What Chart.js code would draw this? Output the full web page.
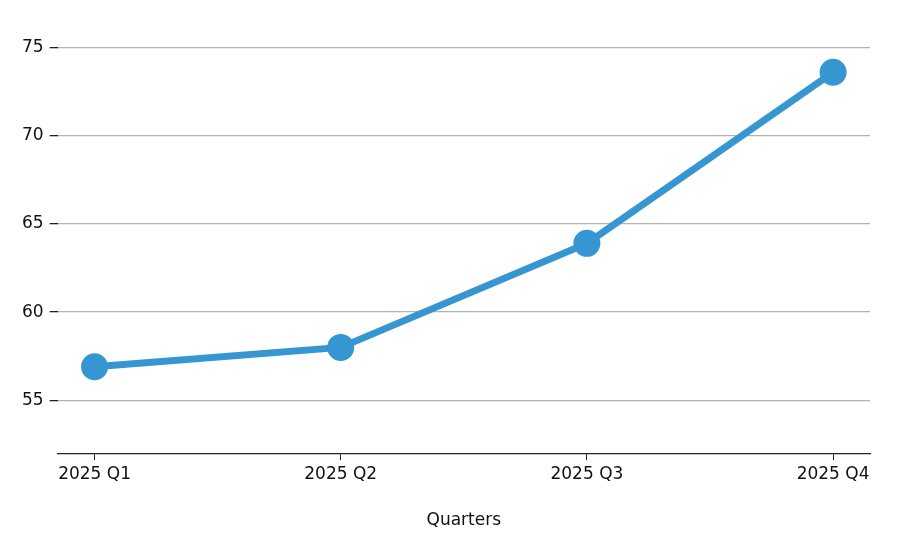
<!DOCTYPE html>
<html><head><meta charset="utf-8">
<script src="https://cdn.jsdelivr.net/npm/chart.js@4"></script>
<style>html,body{margin:0;padding:0;background:#fff}#w{width:900px;height:557px}</style>
</head><body><div id="w"><canvas id="c"></canvas></div>
<script>
const categories = ["2025 Q1","2025 Q2","2025 Q3","2025 Q4"];
const values = [56.9, 58.0, 63.9, 73.6];
const yTicks = [55,60,65,70,75];
Chart.defaults.font.family = "DejaVu Sans";
Chart.defaults.font.size = 17;
Chart.defaults.color = "#111";
new Chart(document.getElementById("c"), {
  type: "line",
  data: { datasets: [{
    data: values.map((v,i)=>({x:i,y:v})),
    borderColor: "#3596d2", backgroundColor: "#3596d2",
    borderWidth: 7, pointRadius: 10, pointHoverRadius: 10, tension: 0
  }]},
  options: {
    responsive: true, maintainAspectRatio: false, animation: false,
    layout: { padding: { top: 30, right: 30, left: 16, bottom: 22 } },
    plugins: { legend: { display: false }, tooltip: { enabled: false } },
    scales: {
      x: { type: "linear", min: -0.15, max: 3.15,
        afterBuildTicks: ax => { ax.ticks = categories.map((_,i)=>({value:i})); },
        ticks: { callback: v => categories[v], padding: 4, maxRotation: 0 },
        grid: { display: true, drawOnChartArea: false, drawTicks: true, tickLength: 7, tickColor: "#222" },
        border: { display: true, color: "#222", width: 1.3 },
        title: { display: true, text: "Quarters", padding: { top: 22 }, font: { size: 17 } } },
      y: { min: 52, max: 76,
        afterBuildTicks: ax => { ax.ticks = yTicks.map(v=>({value:v})); },
        ticks: { padding: 6 },
        grid: { color: "#b3b3b3", lineWidth: 1.3, tickColor: "#222", tickLength: 8 },
        border: { display: false } }
    }
  }
});
</script></body></html>
